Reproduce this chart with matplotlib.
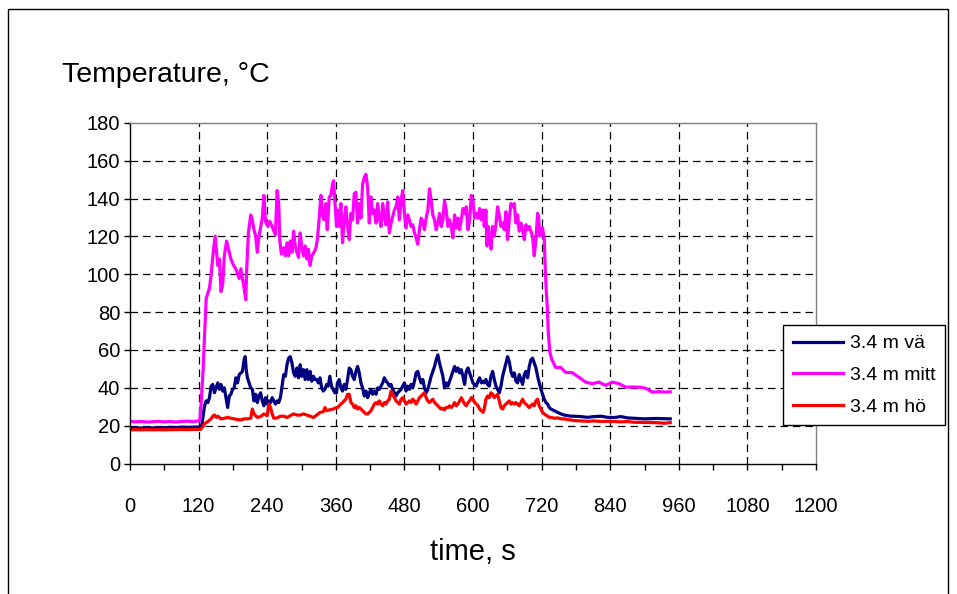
import matplotlib
matplotlib.use("Agg")
import matplotlib.pyplot as plt
from matplotlib.patches import Rectangle
from matplotlib.ticker import MultipleLocator

plt.rcParams['font.family'] = ['Liberation Sans', 'DejaVu Sans']

# ---- measured series: time [s] and temperature [degC] ----
t_va = [0, 10, 20, 30, 40, 50, 60, 70, 80, 90, 100, 110, 120, 123, 125.8, 130.4, 133.3, 136.2, 139, 141.9,
        144.8, 147.7, 150.6, 153.5, 156.4, 159.2, 162.1, 165, 167.9, 170.8, 173.7, 176.5, 179.4, 182.3,
        185.2, 188.1, 191, 193.9, 196.7, 199.6, 201.4, 203.7, 205.4, 208.3, 211.2, 214, 216.9, 219.8,
        222.7, 225.6, 228.5, 231.4, 234.2, 237.1, 240, 242.9, 245.8, 248.7, 251.6, 254.4, 257.3, 260.2,
        263.1, 266, 268.9, 271.8, 274.6, 277.5, 280.4, 283.3, 286.2, 289, 292, 294.8, 297.7, 300.6,
        303.5, 306.4, 309.3, 312.1, 315, 317.9, 320.8, 323.7, 326.6, 329.5, 332.3, 335.2, 338.1, 341,
        343.9, 346.8, 349.6, 352.5, 355.4, 358.3, 361.2, 363, 365.9, 368.9, 371.8, 374.7, 377.6, 380.6,
        383.5, 386.4, 389.3, 392.3, 395.2, 398.1, 401, 404, 406.9, 409.8, 412.7, 415.7, 418.6, 421.5,
        424.4, 427.4, 430.3, 433.2, 436.1, 439.1, 442, 444.9, 447.8, 450.8, 453.7, 456.6, 459.5, 462.5,
        465.4, 468.3, 471.2, 474.2, 477.1, 480, 482.9, 485.9, 488.8, 491.7, 494.6, 497.6, 500.5, 503.4,
        506.3, 509.3, 512.2, 515.1, 518, 521, 523.9, 526.8, 529.7, 532.7, 535.6, 538.5, 541.4, 544.4,
        547.3, 550.2, 553.1, 556.1, 559, 561.9, 564.8, 567.8, 570.7, 573.6, 576.5, 579.5, 582.4, 585.3,
        588.2, 591.2, 594.1, 597, 599.9, 602.9, 605.8, 608.7, 611.6, 614.6, 617.5, 619.7, 622.6, 625.5,
        628.4, 631.4, 634.3, 637.2, 640.1, 643, 646, 648.9, 651.8, 654.7, 657.6, 660.5, 663.4, 666.3,
        669.3, 672.2, 675.1, 678, 680.9, 683.8, 686.7, 689.7, 692.6, 695.5, 698.4, 701.3, 704.2, 707.1,
        710.1, 713, 715.9, 718.8, 721.7, 724.6, 727.6, 730.5, 733.4, 736.3, 742.1, 748, 753.8, 759.6,
        765.5, 771.3, 777.1, 788.8, 800.4, 812.1, 823.8, 835.4, 847.1, 858.7, 870.4, 882, 900, 920, 945]
temp_va = [18.8, 18.9, 18.7, 18.9, 18.8, 19.0, 18.9, 19.1, 19.0, 19.2, 19.1, 19.2, 19.3, 19.5, 20.5, 30.5,
           33.1, 32.2, 34.8, 40.9, 41.8, 37.4, 40.0, 42.6, 39.2, 41.8, 38.3, 40.0, 34.8, 29.6, 35.7, 36.6,
           39.2, 40.0, 45.3, 42.6, 47.0, 47.9, 48.7, 54.8, 56.5, 48.7, 45.3, 42.6, 40.0, 39.2, 33.1, 36.6,
           32.2, 35.7, 37.4, 33.1, 30.5, 34.8, 31.4, 33.1, 32.2, 34.8, 33.1, 31.4, 33.1, 32.2, 34.8, 40.9,
           47.0, 46.1, 52.2, 55.7, 56.5, 53.1, 47.9, 46.1, 50.5, 45.3, 52.2, 46.1, 49.6, 44.4, 49.6, 44.4,
           48.7, 43.5, 46.1, 44.4, 44.4, 42.6, 45.3, 40.0, 38.3, 39.2, 41.8, 40.9, 46.1, 40.9, 39.2, 37.4,
           37.4, 42.6, 44.4, 40.0, 38.3, 41.8, 39.2, 44.4, 50.5, 49.6, 46.1, 44.4, 48.7, 51.3, 47.9, 42.6,
           40.0, 35.7, 38.3, 34.8, 37.4, 39.2, 36.6, 38.3, 36.6, 40.0, 39.2, 40.9, 42.6, 45.3, 43.5, 42.6,
           40.9, 41.8, 39.2, 37.4, 35.7, 37.4, 38.3, 39.2, 40.9, 42.6, 38.3, 40.9, 39.2, 41.8, 40.0, 43.5,
           47.9, 48.7, 45.3, 42.6, 44.4, 40.0, 37.4, 39.2, 42.6, 46.1, 48.7, 51.3, 54.8, 57.4, 53.1, 49.6,
           46.1, 40.0, 42.6, 40.9, 43.5, 46.1, 48.7, 51.3, 48.7, 50.5, 47.9, 49.6, 46.1, 41.8, 48.7, 50.5,
           47.9, 45.3, 42.6, 41.8, 40.9, 43.5, 45.3, 42.6, 43.5, 42.6, 44.4, 41.8, 40.9, 46.1, 48.7, 44.4,
           40.9, 39.2, 37.4, 40.9, 46.1, 49.6, 53.1, 56.5, 53.9, 48.7, 46.1, 47.9, 43.5, 42.6, 47.0, 44.4,
           41.8, 47.0, 48.7, 45.3, 51.3, 54.8, 55.7, 53.1, 50.5, 46.1, 42.6, 39.2, 36.6, 34.0, 32.2, 31.4,
           29.6, 28.8, 27.9, 27.0, 26.2, 25.6, 25.3, 25.0, 25.0, 24.8, 24.4, 24.8, 25.0, 24.4, 24.3, 24.8,
           24.1, 23.9, 23.6, 23.8, 23.6]

t_mitt = [0, 10, 20, 30, 40, 50, 60, 70, 80, 90, 100, 110, 118, 122, 124, 126, 128, 130, 132, 133.3, 139,
          142, 145, 148.9, 153.5, 156.4, 159.2, 162.1, 165, 169, 173.7, 176.5, 181.2, 185.2, 191, 193.9,
          199.6, 202.5, 204.2, 207.1, 211.2, 214, 216.9, 219.8, 222.7, 225.6, 231.4, 234.2, 237.1, 241.2,
          244.6, 248.7, 251.6, 254.4, 257.3, 260.2, 261.9, 264.8, 268.9, 271.8, 274.6, 277.5, 280.4, 283.3,
          286.2, 289, 292, 294.8, 297.7, 300.6, 303.5, 306.4, 309.3, 312.1, 315, 317.9, 321.9, 325.4, 327.7,
          331.2, 334, 337, 339.3, 342.7, 345, 348.5, 351.4, 354.3, 356, 358.3, 361.2, 363, 365.9, 368.9,
          371.8, 374.7, 377.6, 380.6, 383.5, 386.4, 389.3, 392.3, 395.2, 398.1, 401, 404, 406.9, 409.8,
          412.7, 415.7, 418.6, 421.5, 424.4, 427.4, 430.3, 433.2, 436.1, 439.1, 442, 444.9, 447.8, 450.8,
          453.7, 456.6, 459.5, 462.5, 465.4, 468.3, 471.2, 474.2, 477.1, 480, 482.9, 485.9, 488.8, 491.7,
          494.6, 497.6, 500.5, 503.4, 506.3, 509.3, 512.2, 515.1, 518, 521, 523.9, 526.8, 529.7, 532.7,
          535.6, 538.5, 541.4, 544.4, 547.3, 550.2, 553.1, 556.1, 559, 561.9, 564.8, 567.8, 570.7, 573.6,
          576.5, 579.5, 582.4, 585.3, 588.2, 591.2, 594.1, 597, 599.9, 602.9, 605.8, 608.7, 611.6, 614.6,
          617.5, 619.7, 622.6, 624.4, 626.7, 628.4, 631.4, 634.3, 637.2, 640.1, 643, 646, 648.9, 651.8,
          654.7, 657.6, 660.5, 663.4, 666.3, 669.3, 672.2, 675.1, 678, 680.9, 683.8, 686.7, 689.7, 692.6,
          695.5, 698.4, 701.3, 704.2, 707.1, 710.1, 713, 714.7, 717, 718.8, 721.7, 724.7, 726.4, 728.2,
          730, 731.7, 734.6, 737.5, 744.5, 753.3, 762, 773.7, 785.3, 797, 808.7, 820.3, 832, 843.7, 855.3,
          867, 878.7, 890.3, 902, 913.7, 925.4, 937, 945]
temp_mitt = [22.3, 22.0, 22.2, 21.9, 22.1, 22.3, 22.0, 22.2, 21.9, 22.2, 22.4, 22.1, 22.4, 22.6, 30.0,
             40.0, 50.0, 65.0, 78.0, 87.4, 92.6, 100.0, 110.0, 120.2, 104.7, 108.1, 90.9, 94.3, 109.8,
             117.6, 111.6, 108.1, 104.7, 102.9, 97.8, 102.9, 92.6, 86.6, 102.9, 121.9, 131.4, 128.8, 123.6,
             120.2, 111.6, 120.2, 129.7, 141.7, 127.9, 125.3, 127.9, 125.3, 122.8, 121.0, 144.3, 137.4,
             118.4, 110.7, 114.1, 109.8, 116.7, 109.8, 117.6, 111.6, 122.8, 115.0, 111.6, 109.0, 121.9,
             114.1, 109.8, 115.0, 108.1, 113.3, 104.7, 109.8, 111.6, 114.1, 118.4, 130.5, 141.7, 131.4,
             128.8, 137.4, 123.6, 140.9, 141.7, 147.8, 149.5, 139.1, 125.3, 134.0, 125.3, 137.4, 116.7,
             128.8, 135.7, 125.3, 118.4, 132.2, 128.8, 142.6, 143.4, 127.1, 137.4, 129.7, 147.8, 151.2,
             152.9, 146.0, 127.1, 140.9, 132.2, 134.0, 127.1, 137.4, 129.7, 125.3, 137.4, 130.5, 126.2,
             138.3, 121.9, 127.1, 130.5, 134.0, 135.7, 140.9, 128.8, 139.1, 144.3, 132.2, 124.5, 131.4,
             128.8, 125.3, 126.2, 121.9, 119.3, 115.9, 123.6, 129.7, 127.9, 123.6, 129.7, 134.0, 145.2,
             139.1, 131.4, 128.8, 123.6, 127.1, 132.2, 125.3, 128.8, 139.1, 134.0, 125.3, 128.8, 125.3,
             119.3, 131.4, 124.5, 129.7, 123.6, 128.8, 134.8, 132.2, 135.7, 123.6, 128.8, 141.7, 139.1,
             129.7, 132.2, 129.7, 134.8, 128.8, 134.0, 125.3, 134.0, 115.0, 125.3, 120.2, 113.3, 125.3,
             120.2, 126.2, 135.7, 131.4, 125.3, 127.1, 123.6, 133.1, 118.4, 128.8, 137.4, 135.7, 137.4,
             127.1, 131.4, 122.8, 127.1, 123.6, 118.4, 126.2, 123.6, 125.3, 122.8, 120.2, 109.8, 118.4,
             132.2, 130.5, 120.2, 124.5, 124.5, 118.4, 102.9, 90.9, 82.2, 69.0, 58.7, 55.2, 50.8, 50.8,
             48.2, 48.0, 45.6, 43.0, 42.2, 43.0, 41.3, 43.0, 42.2, 40.4, 40.4, 40.4, 39.8, 37.7, 38.0,
             37.7, 37.9]

t_ho = [0, 10, 20, 30, 40, 50, 60, 70, 80, 90, 100, 110, 120, 124, 127.5, 130.4, 136.2, 141.9, 144.8, 147.7,
        150.6, 153.5, 159.2, 165, 170.8, 176.5, 182.3, 188.1, 193.9, 199.6, 205.4, 211.2, 214, 216.9,
        219.8, 222.7, 228.5, 234.2, 240, 242.9, 245.8, 248.7, 251.6, 257.3, 263.1, 268.9, 274.6, 280.4,
        286.2, 292, 297.7, 303.5, 309.3, 315, 320.8, 326.6, 332.3, 338.1, 341, 343.9, 349.6, 355.4, 361.2,
        363, 365.9, 368.9, 371.8, 374.7, 377.6, 380.6, 383.5, 386.4, 389.3, 392.3, 395.2, 398.1, 401, 404,
        406.9, 409.8, 412.7, 415.7, 418.6, 421.5, 424.4, 427.4, 430.3, 433.2, 436.1, 439.1, 442, 444.9,
        447.8, 450.8, 453.7, 456.6, 459.5, 462.5, 465.4, 468.3, 471.2, 474.2, 477.1, 480, 482.9, 485.9,
        488.8, 491.7, 494.6, 497.6, 500.5, 503.4, 506.3, 509.3, 512.2, 515.1, 518, 521, 523.9, 526.8,
        529.7, 532.7, 535.6, 538.5, 541.4, 544.4, 547.3, 550.2, 553.1, 556.1, 559, 561.9, 564.8, 567.8,
        570.7, 573.6, 576.5, 579.5, 582.4, 585.3, 588.2, 591.2, 594.1, 597, 599.9, 602.9, 605.8, 608.7,
        611.6, 614.6, 617.5, 619.7, 622.6, 625.5, 628.4, 631.4, 634.3, 637.2, 640.1, 643, 646, 648.9,
        651.8, 654.7, 657.6, 660.5, 663.4, 666.3, 669.3, 672.2, 675.1, 678, 680.9, 683.8, 686.7, 689.7,
        692.6, 695.5, 698.4, 701.3, 704.2, 707.1, 710.1, 713, 715.9, 718.8, 721.7, 724.6, 727.6, 730.5,
        733.4, 736.3, 742.1, 748, 753.8, 759.6, 765.5, 771.3, 777.1, 788.8, 800.4, 812.1, 823.8, 835.4,
        847.1, 858.7, 870.4, 882, 900, 920, 935, 945]
temp_ho = [17.8, 17.9, 17.8, 17.9, 17.8, 17.9, 17.8, 17.9, 17.9, 18.0, 17.9, 18.0, 18.0, 18.1, 19.7, 21.0,
           22.2, 23.6, 25.0, 25.6, 24.4, 25.0, 23.6, 23.9, 24.4, 23.9, 23.6, 23.2, 23.0, 23.6, 23.6, 23.9,
           28.8, 26.2, 25.3, 24.4, 24.8, 26.2, 25.3, 31.4, 29.6, 26.2, 23.9, 24.1, 25.0, 25.0, 24.3, 25.3,
           26.2, 25.6, 25.6, 26.2, 25.6, 25.0, 24.3, 25.6, 27.0, 27.4, 29.6, 27.9, 28.4, 28.8, 29.6, 29.6,
           30.5, 31.4, 32.2, 33.1, 34.0, 36.6, 36.6, 32.2, 31.4, 29.6, 30.5, 28.8, 29.6, 28.8, 27.9, 27.0,
           26.2, 26.2, 27.0, 27.9, 29.6, 31.4, 32.2, 31.4, 33.1, 31.4, 30.5, 32.2, 31.4, 33.1, 34.0, 38.3,
           36.6, 34.8, 33.1, 32.2, 31.4, 34.0, 34.8, 33.1, 31.4, 32.2, 33.1, 32.2, 34.0, 33.1, 31.4, 33.1,
           34.8, 35.7, 36.6, 37.4, 34.8, 33.1, 32.2, 33.1, 34.0, 32.2, 31.4, 30.5, 29.6, 28.8, 29.1, 28.4,
           29.6, 29.6, 30.5, 29.6, 30.5, 32.2, 30.5, 31.4, 33.1, 34.8, 33.1, 31.4, 30.5, 32.2, 33.1, 34.8,
           34.0, 32.2, 31.4, 30.5, 28.8, 27.9, 27.0, 28.8, 34.0, 35.7, 34.8, 37.4, 36.6, 34.8, 35.7, 36.6,
           33.1, 29.6, 28.8, 30.5, 31.4, 32.2, 33.1, 31.4, 32.2, 31.4, 32.2, 31.4, 30.5, 32.2, 34.0, 32.2,
           31.4, 30.5, 29.6, 30.5, 31.4, 30.5, 33.1, 34.0, 30.5, 28.8, 27.0, 26.2, 25.6, 25.0, 24.4, 24.4,
           23.9, 24.1, 23.6, 23.6, 23.2, 23.0, 22.7, 22.5, 22.3, 22.5, 22.2, 22.3, 22.2, 22.0, 22.2, 21.8,
           21.7, 21.6, 21.3, 21.6]

series_labels = ["3.4 m vä", "3.4 m mitt", "3.4 m hö"]
series_colors = ["#000080", "#FF00FF", "#FF0000"]
x_ticks = list(range(0, 1201, 120))
y_ticks = list(range(0, 181, 20))

fig = plt.figure(figsize=(9.57, 5.94), dpi=100)
W, H = 957.0, 594.0
ax = fig.add_axes([130 / W, 1 - 463.5 / H, (816 - 130) / W, (463.5 - 123) / H])

for tt, vv, lab, col in zip([t_va, t_mitt, t_ho], [temp_va, temp_mitt, temp_ho],
                            series_labels, series_colors):
    ax.plot(tt, vv, color=col, lw=2.3, label=lab, solid_joinstyle='round')

ax.set_xlim(x_ticks[0], x_ticks[-1])
ax.set_ylim(y_ticks[0], y_ticks[-1])
ax.set_xticks(x_ticks)
ax.set_yticks(y_ticks)
ax.xaxis.set_minor_locator(MultipleLocator(60))

ax.tick_params(axis='both', which='both', direction='out', length=4, width=1, color='black',
               labelsize=14.5)
ax.tick_params(axis='x', which='major', pad=20)
ax.tick_params(axis='y', which='major', pad=3)

ax.grid(True, which='major', color='black', linestyle=(0, (6, 4)), linewidth=0.9)
for line, val in zip(ax.yaxis.get_gridlines(), y_ticks):
    if val in (y_ticks[0], y_ticks[-1]):
        line.set_visible(False)
for line, val in zip(ax.xaxis.get_gridlines(), x_ticks):
    if val in (x_ticks[0], x_ticks[-1]):
        line.set_visible(False)
ax.set_axisbelow(True)

for side in ('left', 'bottom'):
    ax.spines[side].set_color('black')
    ax.spines[side].set_linewidth(1)
for side in ('top', 'right'):
    ax.spines[side].set_color('#808080')
    ax.spines[side].set_linewidth(1)

leg = ax.legend(loc='upper left', bbox_to_anchor=(783 / W, 1 - 325 / H),
                bbox_transform=fig.transFigure, frameon=True, fancybox=False, shadow=False,
                edgecolor='black', framealpha=1, fontsize=14, handlelength=2.6,
                handletextpad=0.35, labelspacing=0.72, borderpad=0.5, borderaxespad=0)
leg.get_frame().set_linewidth(1)
for h in leg.get_lines():
    h.set_linewidth(2.3)

fig.text(62 / W, 1 - 75 / H, "Temperature, °C", fontsize=20.5, ha='left', va='center')
fig.text(473 / W, 1 - 552 / H, "time, s", fontsize=21, ha='center', va='center')

fig.patches.append(Rectangle((8 / W, -0.02), (948 - 8) / W, 1 - 9 / H + 0.02,
                             transform=fig.transFigure, fill=False, edgecolor='black',
                             linewidth=1))

fig.savefig("out.png", dpi=100)
